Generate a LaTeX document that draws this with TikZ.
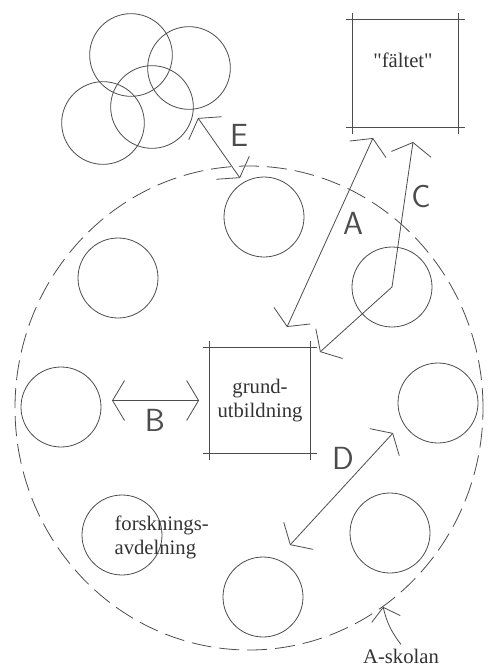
\documentclass[tikz,border=0pt]{standalone}
\usepackage{fontspec}
\setmainfont{Liberation Serif}
\usetikzlibrary{arrows.meta, positioning, shapes.geometric}

\begin{document}
\begin{tikzpicture}[
    x=0.75pt, y=-0.75pt,
    pen/.style={draw=black!70, line width=0.6pt},
    cell/.style={pen, circle, minimum size=60pt, inner sep=0pt},
    crowd/.style={pen, circle, minimum size=62pt, inner sep=0pt},
    wall/.style={draw=black!70, line width=0.6pt, dash pattern=on 15pt off 6pt},
    sketchbox/.style={inner sep=0pt},
    edgeline/.style={pen, shorten <=-5pt, shorten >=-5pt},
    link/.style={pen, {Straight Barb[length=9pt, width=30pt]}-{Straight Barb[length=9pt, width=30pt]}},
    hand/.style={font=\sffamily\fontsize{24}{24}\selectfont, text=black!70},
    txt/.style={font=\fontsize{15.5}{18}\selectfont, text=black!80, inner sep=1pt}
]
\useasboundingbox (0,0) rectangle (487,668);

% --- the school, dashed boundary ---
\node[wall, ellipse, minimum width=351pt, minimum height=363pt, inner sep=0pt] (skola) at (249,408) {};

% --- overlapping circles outside, top left ---
\node[crowd] (g1) at (131,55) {};
\node[crowd] (g2) at (189,68) {};
\node[crowd] (g3) at (152,107) {};
\node[crowd] (g4) at (103,123) {};

% --- units inside the school ---
\node[cell] (ut) at (264,217) {};
\node[cell] (ul) at (118,278) {};
\node[cell] (ur) at (392,287) {};
\node[cell] (ml) at (61,407) {};
\node[cell] (mr) at (438,403) {};
\node[cell] (fa) at (122,535) {};
\node[cell] (ub) at (263,597) {};
\node[cell] (lr) at (390,533) {};

\node[txt, anchor=west, align=left] (faname) at (113,537) {forsknings-\\avdelning};

% --- boxes, drawn with overshooting corners ---
\node[sketchbox, minimum width=78.75pt, minimum height=80.25pt] (falt) at (405.5,73.5) {};
\node[txt] (faltname) at (403,60) {\textquotedbl fältet\textquotedbl};
\draw[edgeline] (falt.north west) -- (falt.north east);
\draw[edgeline] (falt.south west) -- (falt.south east);
\draw[edgeline] (falt.north west) -- (falt.south west);
\draw[edgeline] (falt.north east) -- (falt.south east);

\node[sketchbox, txt, align=center, minimum width=75pt, minimum height=78.75pt] (grund) at (260,400.5) {grund-\\utbildning};
\draw[edgeline] (grund.north west) -- (grund.north east);
\draw[edgeline] (grund.south west) -- (grund.south east);
\draw[edgeline] (grund.north west) -- (grund.south west);
\draw[edgeline] (grund.north east) -- (grund.south east);

% --- free ends of the arrows ---
\coordinate (a1) at (373,138);
\coordinate (a2) at (287,327);
\coordinate (c1) at (413,142);
\coordinate (c2) at (320,352);
\coordinate (d1) at (393,433);
\coordinate (d2) at (290,545);
\coordinate (e1) at (198,118);
\coordinate (e2) at (240,178);

% --- arrows ---
\draw[link] (a1) -- (a2);
\draw[link] (c1) -- (ur.center) -- (c2);
\draw[link, shorten <=8pt, shorten >=8pt] (ml.east |- grund.west) -- (grund.west);
\draw[link] (d1) -- (d2);
\draw[link] (e1) -- (e2);

\node[hand] (la) at (353,223) {A};
\node[hand] (lb) at (155,420) {B};
\node[hand] (lc) at (421,197) {C};
\node[hand] (ld) at (343,458) {D};
\node[hand] (le) at (239,135) {E};

% --- name of the school ---
\node[txt] (askolan) at (401,656) {A-skolan};
\draw[pen, -{Straight Barb[length=9pt, width=22pt]}] ([yshift=2pt]askolan.north) to[bend left=12] (skola.-56);

\end{tikzpicture}
\end{document}
